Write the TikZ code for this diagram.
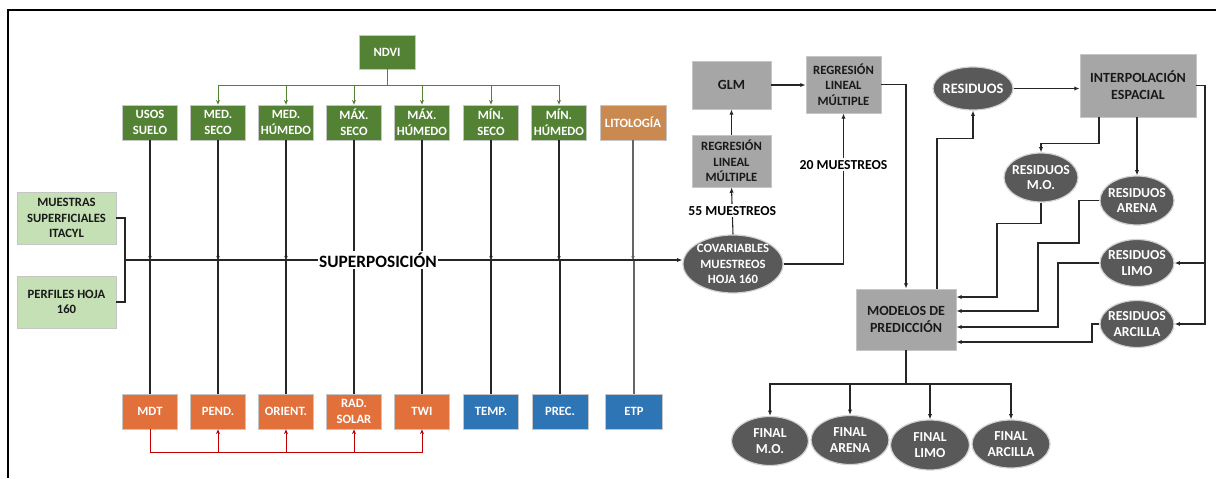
\documentclass[tikz,border=0pt]{standalone}
\usepackage{fontspec}
\setmainfont{Carlito}[BoldFont={Carlito Bold}]
\usetikzlibrary{shapes.geometric,arrows.meta,calc}
\definecolor{gdark}{HTML}{548235}
\definecolor{lgreen}{HTML}{C5E0B4}
\definecolor{brn}{HTML}{C9894F}
\definecolor{orng}{HTML}{E2703B}
\definecolor{blu}{HTML}{2E75B6}
\definecolor{boxgray}{HTML}{A6A6A6}
\definecolor{dgray}{HTML}{595959}
\definecolor{redl}{HTML}{C00000}
\begin{document}
\begin{tikzpicture}[x=0.75pt,y=-0.75pt,
  font=\bfseries\fontsize{9.5}{12}\selectfont,
  box/.style={draw=gray!45, line width=0.6pt, inner sep=1pt, align=center},
  wh/.style 2 args={minimum width=#1*0.75pt, minimum height=#2*0.75pt},
  gbox/.style={box, fill=gdark, text=white},
  lgbox/.style={box, fill=lgreen, text=black!90, font=\bfseries\fontsize{9.5}{11.8}\selectfont},
  brbox/.style={box, fill=brn, text=white},
  obox/.style={box, fill=orng, text=white},
  bbox/.style={box, fill=blu, text=white},
  graybox/.style={box, fill=boxgray, text=black!90, font=\bfseries\fontsize{9.5}{11.6}\selectfont},
  bigbox/.style={box, fill=boxgray, text=black!90, font=\bfseries\fontsize{10.5}{13}\selectfont},
  dell/.style={ellipse, draw=gray!35, line width=0.9pt, fill=dgray, inner sep=0pt},
  etext/.style={text=white, align=center, inner sep=0pt, font=\bfseries\fontsize{10.3}{11.8}\selectfont},
  ctext/.style={text=white, align=center, inner sep=0pt, font=\bfseries\fontsize{9.5}{11.6}\selectfont},
  conn/.style={line width=0.8pt, draw=black!85},
  arr/.style={conn, -{Latex[length=4pt,width=3.2pt]}},
  tipd/.style={conn, -{Stealth[length=3pt,width=2.6pt]}},
  garr/.style={line width=0.7pt, draw=gdark, -{Stealth[length=3.5pt,width=3pt]}},
  rarr/.style={line width=0.7pt, draw=redl, -{Stealth[length=3.5pt,width=3pt]}},
  lbl/.style={fill=white, inner sep=1.5pt, font=\bfseries\fontsize{10.3}{12}\selectfont}
]
\useasboundingbox (0,0) rectangle (1216,478);
\fill[white] (0,0) rectangle (1216,478);
\draw[line width=1.5pt] (8,478) -- (8,10) -- (1216,10);

% top row
\node[gbox, wh={56}{34}] (ndvi) at (387,52) {NDVI};
\node[gbox, wh={55}{35}] (usos) at (150,122.5) {USOS\\SUELO};
\node[gbox, wh={55}{35}] (meds) at (218,122.5) {MED.\\SECO};
\node[gbox, wh={55}{35}] (medh) at (286,122.5) {MED.\\HÚMEDO};
\node[gbox, wh={55}{35}] (maxs) at (354,122.5) {MÁX.\\SECO};
\node[gbox, wh={55}{35}] (maxh) at (422,122.5) {MÁX.\\HÚMEDO};
\node[gbox, wh={55}{35}] (mins) at (491,122.5) {MÍN.\\SECO};
\node[gbox, wh={55}{35}] (minh) at (559,122.5) {MÍN.\\HÚMEDO};
\node[brbox, wh={66}{35}] (lito) at (633,122.5) {LITOLOGÍA};

\coordinate (gb) at (387,85);
\foreach \n in {meds,medh,maxs,maxh,mins,minh}
  \draw[garr] (ndvi.south) -- (gb) -| (\n.north);

% bottom row
\node[obox, wh={55}{35}] (mdt) at (150,411.5) {MDT};
\node[obox, wh={55}{35}] (pend) at (218,411.5) {PEND.};
\node[obox, wh={55}{35}] (orient) at (286,411.5) {ORIENT.};
\node[obox, wh={55}{35}] (rad) at (354,411.5) {RAD.\\SOLAR};
\node[obox, wh={55}{35}] (twi) at (422,411.5) {TWI};
\node[bbox, wh={55}{35}] (temp) at (491,411.5) {TEMP.};
\node[bbox, wh={56}{35}] (prec) at (560,411.5) {PREC.};
\node[bbox, wh={57}{35}] (etp) at (634,411.5) {ETP};

\coordinate (rb) at (150,452);
\foreach \n in {pend,orient,rad,twi}
  \draw[rarr] (mdt.south) -- (rb) -| (\n.south);

% left inputs
\node[lgbox, wh={99}{52}] (mu) at (66.5,218) {MUESTRAS\\SUPERFICIALES\\ITACYL};
\node[lgbox, wh={99}{52}] (pe) at (66.5,302) {PERFILES HOJA\\160};
\coordinate (j) at (125,260);
\draw[conn] (mu.east) -| (j);
\draw[conn] (pe.east) -| (j);

% covariables
\node[dell, wh={100}{58}, label={[ctext]center:COVARIABLES\\MUESTREOS\\HOJA 160}] (cov) at (733,264) {};

% columns
\foreach \n in {usos,meds,medh,maxs,maxh,mins,minh}
  \draw[tipd] (\n.south) -- (\n.south |- j);
\draw[tipd, draw=black!60] (lito.south) -- (lito.south |- j);
\foreach \n in {mdt,pend,orient,rad,twi,temp,prec}
  \draw[conn] (\n.north) -- (\n.north |- j);
\draw[conn, draw=black!60] (etp.north) -- (etp.north |- j);

\draw[arr] (j) -- (j -| cov.west);
\node[fill=white, inner sep=1pt, font=\bfseries\fontsize{13}{15}\selectfont] (sup) at (378,260) {SUPERPOSICIÓN};

% regression chain
\node[graybox, wh={79}{52}] (reg1) at (731.5,161) {REGRESIÓN\\LINEAL\\MÚLTIPLE};
\node[graybox, wh={79}{48}, font=\bfseries\fontsize{10.5}{12}\selectfont] (glm) at (731.5,85) {GLM};
\node[graybox, wh={75}{57}] (reg2) at (843.5,84.5) {REGRESIÓN\\LINEAL\\MÚLTIPLE};
\draw[arr] (cov.north) -- node[lbl] {55 MUESTREOS} (reg1.south);
\draw[arr] (reg1.north) -- (glm.south);
\draw[arr] (glm.east) -- (glm.east -| reg2.west);
\draw[arr] (cov.east) -| node[lbl, pos=0.83] {20 MUESTREOS} (reg2.south);

% prediction models
\node[bigbox, wh={100}{61}] (mod) at (906,319.5) {MODELOS DE\\PREDICCIÓN};
\draw[arr] (reg2.east) -| (mod.north);

\node[dell, wh={80}{43}, label={[etext, font=\bfseries\fontsize{10.8}{12}\selectfont]center:RESIDUOS}] (res) at (973,88.5) {};
\node[bigbox, wh={116}{63}] (interp) at (1138,85.5) {INTERPOLACIÓN\\ESPACIAL};
\node[dell, wh={74}{49}, label={[etext]center:RESIDUOS\\M.O.}] (rmo) at (1041,177.5) {};
\node[dell, wh={74}{49}, label={[etext]center:RESIDUOS\\ARENA}] (rar) at (1137,200.5) {};
\node[dell, wh={74}{47}, label={[etext]center:RESIDUOS\\LIMO}] (rli) at (1137,263) {};
\node[dell, wh={74}{47}, label={[etext]center:RESIDUOS\\ARCILLA}] (rac) at (1137,324) {};

\draw[arr] ($(mod.north)+(31,0)$) -- ++(0,-150) -| (res.south);
\draw[arr] (res.east) -- (res.east -| interp.west);
\draw[arr] ($(interp.south)+(-39,0)$) -- ++(0,26) -| (rmo.north);
\draw[arr] (rar.north |- interp.south) -- (rar.north);
\coordinate (rr) at (1205,85.5);
\draw[arr] (interp.east) -- (rr) |- (rac.east);
\draw[arr] (rr |- rli.east) -- (rli.east);

\draw[arr] (rmo.south) -- ++(0,21) -| (997,297) -- ($(mod.east)+(0,-22.5)$);
\draw[arr] (rar.west) -- (1079,200.5) -- (1079,243) -- (1038,243) -- (1038,311) -- ($(mod.east)+(0,-8.5)$);
\draw[arr] (rli.west) -- (1058,263) -- (1058,327) -- ($(mod.east)+(0,7.5)$);
\draw[arr] (rac.west) -- (1092,324) -- (1092,342) -- ($(mod.east)+(0,22.5)$);

% finals
\node[dell, wh={77}{49}, label={[etext]center:FINAL\\M.O.}] (fmo) at (770,441) {};
\node[dell, wh={78}{49}, label={[etext]center:FINAL\\ARENA}] (far) at (850,440) {};
\node[dell, wh={79}{50}, label={[etext]center:FINAL\\LIMO}] (fli) at (930,445) {};
\node[dell, wh={78}{48}, label={[etext]center:FINAL\\ARCILLA}] (fac) at (1011,444) {};
\coordinate (fb) at (906,384);
\foreach \n in {fmo,far,fli,fac}
  \draw[arr] (mod.south) -- (fb) -| (\n.north);
\end{tikzpicture}
\end{document}
